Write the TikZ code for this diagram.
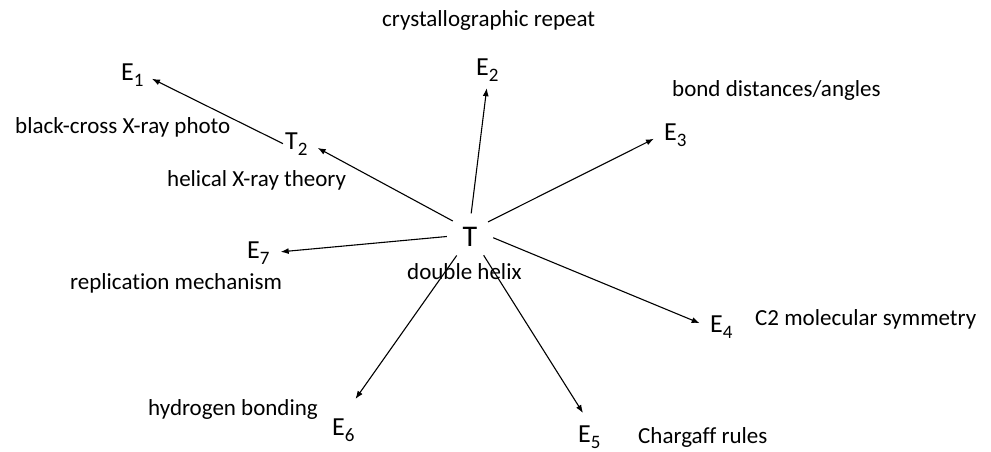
\documentclass[tikz,border=0pt]{standalone}
\usepackage{fontspec}
\setmainfont{Carlito}[Ligatures=NoCommon]
\usetikzlibrary{arrows.meta}
\newcommand{\lowidx}[1]{\raisebox{-6pt}{\fontsize{19}{19}\selectfont #1}}
\tikzset{
  evid/.style={anchor=base west, inner sep=2pt, font=\fontsize{26}{30}\selectfont},
  lbl/.style={anchor=base west, inner sep=0pt, font=\fontsize{23}{26}\selectfont},
  arr/.style={-{Latex[length=8pt,width=6pt]}, line width=1.1pt, shorten >=9pt}
}

\begin{document}
\begin{tikzpicture}[x=1pt,y=-1pt]
    \useasboundingbox (0,0) rectangle (991,452);
    \node[circle, inner sep=0pt, minimum size=46pt, font=\fontsize{30}{36}\selectfont] (t) at (470,236.5) {T};
    \node[lbl] (tlbl) at (407,279) {double helix};
    \node[evid] (t2) at (283,149) {T\lowidx{2}};
    \node[lbl] (t2lbl) at (167,186) {helical X-ray theory};
    \node[evid] (e1) at (119,81) {E\lowidx{1}};
    \node[lbl] (e1lbl) at (15,133) {black-cross X-ray photo};
    \node[evid] (e2) at (474,75) {E\lowidx{2}};
    \node[lbl] (e2lbl) at (382,27) {crystallographic repeat};
    \node[evid] (e3) at (662,140) {E\lowidx{3}};
    \node[lbl] (e3lbl) at (672,96) {bond distances/angles};
    \node[evid] (e4) at (708,332) {E\lowidx{4}};
    \node[lbl] (e4lbl) at (755,325) {C2 molecular symmetry};
    \node[evid] (e5) at (576,442) {E\lowidx{5}};
    \node[lbl] (e5lbl) at (638,443) {Chargaff rules};
    \node[evid] (e6) at (330,435) {E\lowidx{6}};
    \node[lbl] (e6lbl) at (148,415) {hydrogen bonding};
    \node[evid] (e7) at (245,258) {E\lowidx{7}};
    \node[lbl] (e7lbl) at (70,289) {replication mechanism};
    \draw[arr, shorten >=7pt] (t2.west) -- (e1.east);
    \draw[arr] (t.138) -- (t2.east);
    \draw[arr, shorten >=5pt] (t.87) -- (e2.south);
    \draw[arr] (t.39) -- (e3.west);
    \draw[arr] (t.-3) -- (e4.west);
    \draw[arr, shorten >=12pt] (t.-54) -- (e5.north);
    \draw[arr, shorten >=21pt] (t.-125) -- (e6.north);
    \draw[arr] (t.180) -- (e7.east);
  \end{tikzpicture}
\end{document}
